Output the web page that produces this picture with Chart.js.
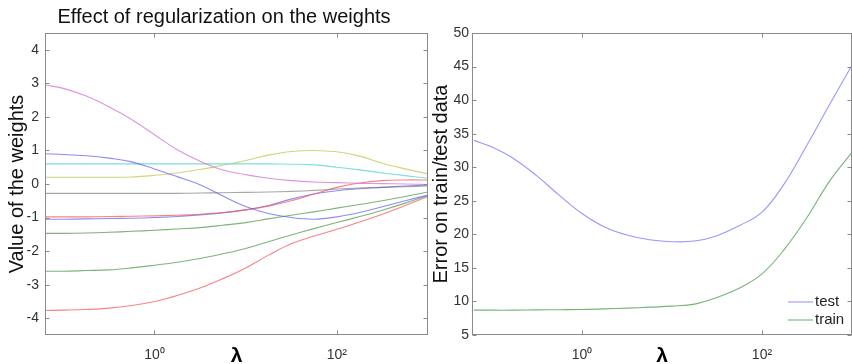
<!DOCTYPE html>
<html>
<head>
<meta charset="utf-8">
<script src="https://cdn.jsdelivr.net/npm/chart.js@4.4.0/dist/chart.umd.min.js"></script>
<style>
  html, body { margin: 0; padding: 0; background: #fff; }
  body { width: 852px; height: 364px; position: relative; overflow: hidden; }
  #weights-wrap { position: absolute; left: 0; top: 0; width: 432px; height: 364px; }
  #error-wrap { position: absolute; left: 428px; top: 0; width: 424px; height: 364px; }
</style>
</head>
<body>
<div id="weights-wrap"><canvas id="weights-chart" width="432" height="364"></canvas></div>
<div id="error-wrap"><canvas id="error-chart" width="424" height="364"></canvas></div>
<script>
// lambda values, every quarter decade (log10: -1.2 .. 3)
const lambdas = [0.063, 0.1, 0.178, 0.316, 0.562, 1, 1.78, 3.16, 5.62, 10, 17.8, 31.6, 56.2, 100, 178, 316, 562, 1000];
const xTickValues = [1, 100];
const xTickLabels = ['10\u2070', '10\u00b2'];
const weightTicks = [-4, -3, -2, -1, 0, 1, 2, 3, 4];
const errorTicks = [5, 10, 15, 20, 25, 30, 35, 40, 45, 50];

// left panel: weight paths
const wMagenta = [2.95, 2.85, 2.62, 2.3, 1.92, 1.47, 1.02, 0.68, 0.42, 0.28, 0.17, 0.1, 0.06, 0.04, 0.02, 0.01, 0, -0.02];
const wBlue1 = [0.9, 0.88, 0.84, 0.77, 0.66, 0.45, 0.22, -0.02, -0.36, -0.67, -0.88, -1.0, -1.05, -0.98, -0.85, -0.68, -0.5, -0.33];
const wCyan = [0.6, 0.6, 0.6, 0.6, 0.6, 0.6, 0.6, 0.6, 0.6, 0.6, 0.6, 0.59, 0.57, 0.5, 0.42, 0.33, 0.25, 0.17];
const wYellow = [0.2, 0.2, 0.2, 0.2, 0.21, 0.26, 0.33, 0.43, 0.56, 0.7, 0.86, 0.97, 1.0, 0.96, 0.83, 0.62, 0.45, 0.3];
const wGrey = [-0.28, -0.28, -0.28, -0.28, -0.28, -0.28, -0.28, -0.27, -0.26, -0.25, -0.24, -0.22, -0.19, -0.15, -0.12, -0.1, -0.08, -0.06];
const wRed1 = [-0.98, -0.98, -0.98, -0.97, -0.96, -0.95, -0.93, -0.9, -0.85, -0.77, -0.66, -0.5, -0.3, -0.1, 0.03, 0.1, 0.12, 0.12];
const wBlue2 = [-1.05, -1.05, -1.04, -1.03, -1.02, -1.0, -0.97, -0.92, -0.86, -0.77, -0.64, -0.45, -0.3, -0.2, -0.14, -0.1, -0.06, -0.03];
const wGreen1 = [-1.47, -1.47, -1.46, -1.44, -1.41, -1.38, -1.34, -1.3, -1.23, -1.15, -1.04, -0.93, -0.83, -0.72, -0.61, -0.5, -0.37, -0.24];
const wGreen2 = [-2.6, -2.6, -2.58, -2.56, -2.5, -2.42, -2.33, -2.22, -2.08, -1.92, -1.72, -1.52, -1.33, -1.15, -0.97, -0.78, -0.57, -0.34];
const wRed2 = [-3.77, -3.76, -3.74, -3.7, -3.62, -3.5, -3.32, -3.1, -2.82, -2.5, -2.12, -1.78, -1.55, -1.35, -1.13, -0.9, -0.64, -0.37];

// right panel: errors
const testError = [34.0, 33.0, 31.2, 28.7, 25.8, 23.1, 21.1, 19.9, 19.2, 18.9, 19.0, 19.8, 21.3, 23.3, 27.6, 33.3, 39.3, 45.2];
const trainError = [8.7, 8.7, 8.7, 8.75, 8.77, 8.8, 8.9, 9.0, 9.15, 9.3, 9.6, 10.6, 12.0, 14.1, 17.8, 22.5, 27.9, 32.2];

const FONT = '"Liberation Sans", Arial, sans-serif';

function toPoints(values) {
    return values.map((v, i) => ({ x: lambdas[i], y: v }));
}

function line(label, values, color) {
    return {
        label: label,
        data: toPoints(values),
        borderColor: color,
        borderWidth: 1.1,
        pointRadius: 0,
        fill: false,
        tension: 0.4
    };
}

// box round the plot with ticks pointing inward, like matlab
const matlabBox = {
    id: 'matlabBox',
    afterDraw(chart) {
        const { ctx, chartArea: a, scales } = chart;
        const L = Math.round(a.left) + 0.5, R = Math.round(a.right) - 0.5;
        const T = Math.round(a.top) + 0.5, B = Math.round(a.bottom) - 0.5;
        ctx.save();
        ctx.strokeStyle = '#8a8a8a';
        ctx.lineWidth = 1;
        ctx.strokeRect(L, T, R - L, B - T);
        ctx.beginPath();
        scales.x.ticks.forEach(t => {
            const px = Math.round(scales.x.getPixelForValue(t.value)) + 0.5;
            ctx.moveTo(px, T); ctx.lineTo(px, T + 4);
            ctx.moveTo(px, B); ctx.lineTo(px, B - 4);
        });
        scales.y.ticks.forEach(t => {
            const py = Math.round(scales.y.getPixelForValue(t.value)) + 0.5;
            ctx.moveTo(L, py); ctx.lineTo(L + 4, py);
            ctx.moveTo(R, py); ctx.lineTo(R - 4, py);
        });
        ctx.stroke();
        ctx.restore();
    }
};

const panelTitle = {
    id: 'panelTitle',
    afterDraw(chart, args, opts) {
        if (!opts.text) return;
        const ctx = chart.ctx;
        ctx.save();
        ctx.font = '20px ' + FONT;
        ctx.fillStyle = '#111';
        ctx.textAlign = 'center';
        ctx.textBaseline = 'middle';
        ctx.fillText(opts.text, opts.x, opts.y);
        ctx.restore();
    }
};

const cornerLegend = {
    id: 'cornerLegend',
    afterDraw(chart, args, opts) {
        if (!opts.show) return;
        const ctx = chart.ctx;
        ctx.save();
        ctx.font = '15px ' + FONT;
        ctx.textBaseline = 'middle';
        ctx.textAlign = 'left';
        chart.data.datasets.forEach((ds, i) => {
            const y = opts.y + i * opts.step;
            ctx.strokeStyle = ds.borderColor;
            ctx.lineWidth = 1.1;
            ctx.beginPath();
            ctx.moveTo(opts.x, y); ctx.lineTo(opts.x + 25, y);
            ctx.stroke();
            ctx.fillStyle = '#222';
            ctx.fillText(ds.label, opts.x + 27, y);
        });
        ctx.restore();
    }
};

function buildOptions(cfg) {
    return {
        responsive: false,
        animation: false,
        layout: { padding: cfg.padding },
        plugins: {
            legend: { display: false },
            tooltip: { enabled: false },
            panelTitle: cfg.title || {},
            cornerLegend: cfg.legend || {}
        },
        scales: {
            x: {
                type: 'logarithmic',
                min: cfg.xMin,
                max: 1000,
                grid: { display: false, drawTicks: false },
                border: { display: false },
                afterBuildTicks: s => { s.ticks = xTickValues.map(v => ({ value: v })); },
                afterFit: s => { s.height = 29; },
                ticks: {
                    padding: 12,
                    color: '#333',
                    font: { family: FONT, size: 14 },
                    callback: v => xTickLabels[xTickValues.indexOf(v)] || ''
                },
                title: {
                    display: true,
                    text: '\u03bb',
                    color: '#000',
                    font: { family: FONT, size: 21, weight: 'bold' },
                    padding: { top: 0, bottom: -5 }
                }
            },
            y: {
                min: cfg.yMin,
                max: cfg.yMax,
                grid: { display: false, drawTicks: false },
                border: { display: false },
                afterBuildTicks: s => { s.ticks = cfg.yTicks.map(v => ({ value: v })); },
                afterFit: s => { s.width = cfg.yWidth; },
                ticks: {
                    padding: cfg.yTickPad,
                    color: '#333',
                    font: { family: FONT, size: 14 }
                },
                title: {
                    display: true,
                    text: cfg.yTitle,
                    color: '#111',
                    font: { family: FONT, size: cfg.yTitleSize },
                    padding: { top: cfg.yTitlePad, bottom: 0 }
                }
            }
        }
    };
}

new Chart(document.getElementById('weights-chart'), {
    type: 'line',
    data: {
        datasets: [
            line('w1', wMagenta, 'rgba(215,120,215,0.8)'),
            line('w2', wBlue1, 'rgba(90,90,245,0.7)'),
            line('w3', wCyan, 'rgba(100,215,215,0.85)'),
            line('w4', wYellow, 'rgba(200,200,90,0.8)'),
            line('w5', wGrey, 'rgba(120,120,120,0.65)'),
            line('w6', wRed1, 'rgba(245,90,90,0.75)'),
            line('w7', wBlue2, 'rgba(90,90,245,0.7)'),
            line('w8', wGreen1, 'rgba(80,155,80,0.75)'),
            line('w9', wGreen2, 'rgba(80,155,80,0.75)'),
            line('w10', wRed2, 'rgba(245,90,90,0.75)')
        ]
    },
    options: buildOptions({
        padding: { top: 33, right: 4, left: 0, bottom: 0 },
        xMin: 0.063,
        yMin: -4.5, yMax: 4.5, yTicks: weightTicks,
        yWidth: 45, yTickPad: 6,
        yTitle: 'Value of the weights', yTitleSize: 20, yTitlePad: 5,
        title: { text: 'Effect of regularization on the weights', x: 224, y: 17 }
    }),
    plugins: [matlabBox, panelTitle]
});

new Chart(document.getElementById('error-chart'), {
    type: 'line',
    data: {
        datasets: [
            line('test', testError, 'rgba(125,125,255,0.8)'),
            line('train', trainError, 'rgba(85,160,85,0.8)')
        ]
    },
    options: buildOptions({
        padding: { top: 33, right: 0, left: 0, bottom: 0 },
        xMin: 0.06,
        yMin: 5, yMax: 50, yTicks: errorTicks,
        yWidth: 44, yTickPad: 3,
        yTitle: 'Error on train/test data', yTitleSize: 20, yTitlePad: 1,
        legend: { show: true, x: 360, y: 302, step: 18 }
    }),
    plugins: [matlabBox, cornerLegend]
});
</script>
</body>
</html>
